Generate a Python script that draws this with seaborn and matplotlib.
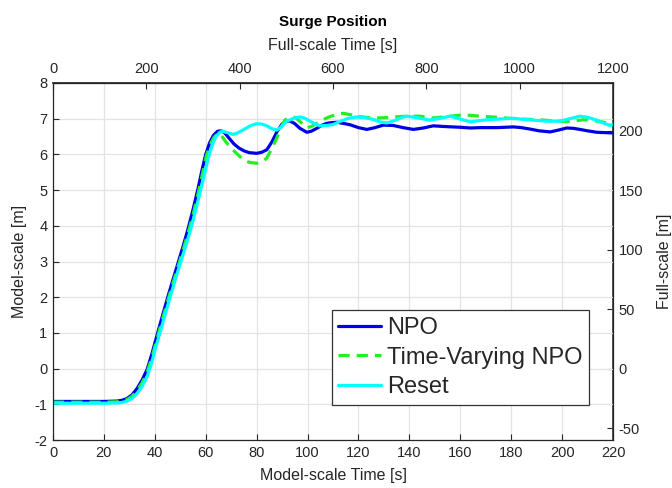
import numpy as np
import pandas as pd
import matplotlib
matplotlib.use("Agg")
import matplotlib.pyplot as plt
import seaborn as sns

# Surge response, model scale (time in s, position in m)
npo_t = [0, 10, 20, 25, 27, 29, 31, 33, 35, 37, 39, 41, 43, 45, 47, 49, 51, 53, 55, 57, 58.5,
         60, 61.5, 63, 64.5, 65.5, 66.5, 67.5, 69, 71, 73, 75, 77, 80, 82, 84, 86, 88, 90, 91.5,
         93, 95, 97, 99.7, 101.5, 103.6, 105.5, 107.5, 109.5, 111.5, 114, 116.7, 120, 123.3,
         126.5, 129.8, 133.7, 137.5, 141.6, 145.5, 149.4, 154, 159.9, 164, 168, 174.3, 180.9,
         184, 187.4, 191, 195.3, 198.5, 201.8, 204.5, 207, 210, 213.6, 217, 220]
npo_v = [-0.92, -0.92, -0.92, -0.91, -0.89, -0.84, -0.74, -0.56, -0.32, -0.02, 0.45, 0.97, 1.48,
         1.98, 2.46, 2.93, 3.4, 3.9, 4.45, 5.05, 5.55, 6.0, 6.32, 6.53, 6.64, 6.66, 6.65, 6.6,
         6.47, 6.3, 6.18, 6.1, 6.05, 6.03, 6.06, 6.13, 6.35, 6.64, 6.85, 6.92, 6.94, 6.86, 6.73,
         6.62, 6.65, 6.73, 6.81, 6.87, 6.89, 6.9, 6.87, 6.83, 6.75, 6.7, 6.75, 6.82, 6.81, 6.75,
         6.7, 6.74, 6.8, 6.78, 6.76, 6.74, 6.75, 6.75, 6.77, 6.75, 6.71, 6.66, 6.63, 6.68, 6.74,
         6.73, 6.7, 6.66, 6.62, 6.61, 6.6]

tv_t = [0, 10, 20, 25, 27, 29, 31, 33, 35, 37, 39, 41, 43, 45, 47, 49, 51, 53, 55, 57, 58.7,
        60.2, 61.7, 63.2, 64.5, 65.6, 66.9, 68.5, 70.8, 72.5, 74.8, 77, 80, 82, 83.9, 85.5, 87.9,
        89.5, 91.2, 93.8, 95.5, 97, 98.5, 99.7, 101.5, 103.6, 106, 108.8, 111.5, 114.1, 117,
        120.3, 124, 127.2, 131, 136.3, 140, 144.2, 149.4, 155, 161.2, 167.8, 174.3, 183.5, 191.4,
        196, 201.8, 205, 208.3, 211, 214.9, 218, 220]
tv_v = [-0.94, -0.94, -0.94, -0.93, -0.92, -0.87, -0.78, -0.62, -0.4, -0.1, 0.35, 0.87, 1.38,
        1.88, 2.36, 2.83, 3.3, 3.78, 4.3, 4.9, 5.45, 5.95, 6.27, 6.47, 6.57, 6.59, 6.45, 6.3,
        6.12, 6.0, 5.85, 5.78, 5.75, 5.79, 5.89, 6.1, 6.45, 6.75, 6.97, 7.06, 7.02, 6.92, 6.82,
        6.75, 6.78, 6.87, 6.97, 7.06, 7.12, 7.15, 7.11, 7.06, 7.03, 7.02, 7.03, 7.06, 7.07, 7.07,
        7.02, 7.06, 7.11, 7.07, 7.04, 6.99, 6.97, 6.94, 6.92, 6.94, 6.97, 6.96, 6.92, 6.88, 6.85]

rs_t = [0, 10, 20, 25, 27, 29, 31, 33, 35, 37, 38.5, 40, 42, 44, 46, 48, 50, 52, 54, 56, 58,
        59.5, 61, 62.5, 64, 65.5, 66.5, 68, 70.8, 72.5, 74.8, 77.5, 80, 82, 84, 86, 87.9, 89.5,
        91.8, 94.5, 97, 99, 101, 103, 104.9, 107.5, 110.1, 113, 116, 119.3, 122.5, 125.8, 128.5,
        131.1, 134, 136.5, 139, 142, 145, 148, 152, 156, 160, 163.8, 167, 170.4, 175, 180.9, 185,
        188.7, 194, 199.2, 203, 207, 210, 213.6, 216.5, 218.9, 220]
rs_v = [-0.97, -0.97, -0.97, -0.96, -0.95, -0.91, -0.84, -0.7, -0.5, -0.22, 0.1, 0.5, 1.0, 1.5,
        2.0, 2.48, 2.95, 3.4, 3.88, 4.42, 5.0, 5.45, 5.9, 6.25, 6.5, 6.62, 6.65, 6.62, 6.56, 6.6,
        6.69, 6.8, 6.86, 6.85, 6.8, 6.72, 6.68, 6.76, 6.93, 7.01, 7.05, 7.01, 6.93, 6.85, 6.8,
        6.81, 6.84, 6.93, 7.01, 7.05, 7.03, 6.98, 6.91, 6.88, 6.94, 7.02, 7.07, 7.04, 7.0, 6.96,
        7.01, 7.07, 6.99, 6.91, 6.94, 6.97, 6.99, 7.01, 6.98, 6.96, 6.93, 6.93, 7.0, 7.07, 7.04,
        6.96, 6.87, 6.81, 6.85]

series_names = ["NPO", "Time-Varying NPO", "Reset"]
series_colors = ["#0000e6", "#22f022", "#00ffff"]

# Froude scaling between model and full scale
length_scale = 30.0
time_scale = 1200.0 / 220.0

df = pd.concat([
    pd.DataFrame({"t": npo_t, "v": npo_v, "Method": series_names[0]}),
    pd.DataFrame({"t": tv_t, "v": tv_v, "Method": series_names[1]}),
    pd.DataFrame({"t": rs_t, "v": rs_v, "Method": series_names[2]}),
])

sns.set_theme(style="white")
plt.rcParams["font.family"] = ["Liberation Sans", "DejaVu Sans"]
plt.rcParams["axes.unicode_minus"] = False

dash_pat = (3.5, 2.2)

fig = plt.figure(figsize=(6.72, 4.88), dpi=100)
ax = fig.add_axes([53 / 672, 1 - 440 / 488, 560 / 672, 357 / 488])

sns.lineplot(data=df, x="t", y="v", hue="Method", style="Method",
             hue_order=series_names, style_order=series_names,
             palette=series_colors,
             dashes={"NPO": "", "Time-Varying NPO": dash_pat, "Reset": ""},
             linewidth=2.3, sort=False, estimator=None, ax=ax, legend=False)

ax.set_xlim(0, 220)
ax.set_ylim(-2, 8)
ax.set_xticks(np.arange(0, 221, 20))
ax.set_yticks(np.arange(-2, 9, 1))
ax.grid(True, color="#e3e3e3", linewidth=0.9)
ax.set_axisbelow(True)
for s in ax.spines.values():
    s.set_color("#262626")
    s.set_linewidth(0.9)
    s.set_visible(True)
ax.tick_params(direction="in", length=4, width=0.8, colors="#262626",
               labelsize=10.5, top=False, right=False, left=True, bottom=True, pad=4)
ax.set_xlabel("Model-scale Time [s]", fontsize=11.5, color="#262626", labelpad=6)
ax.set_ylabel("Model-scale [m]", fontsize=11.5, color="#262626", labelpad=5)

top = ax.secondary_xaxis("top", functions=(lambda t: t * time_scale, lambda f: f / time_scale))
top.set_xticks(np.arange(0, 1201, 200))
top.tick_params(direction="in", length=4, width=0.8, colors="#262626", labelsize=10.5, pad=5)
top.set_xlabel("Full-scale Time [s]", fontsize=11.5, color="#262626", labelpad=9)
top.spines["top"].set_color("#262626")

right = ax.secondary_yaxis("right", functions=(lambda m: m * length_scale, lambda f: f / length_scale))
right.set_yticks(np.arange(-50, 201, 50))
right.tick_params(direction="in", length=4, width=0.8, colors="#262626", labelsize=10.5, pad=4)
right.set_ylabel("Full-scale [m]", fontsize=11.5, color="#262626", labelpad=10)
right.spines["right"].set_color("#262626")

ax.set_title("Surge Position", fontsize=11, fontweight="bold", color="black", pad=41)

handles = [plt.Line2D([], [], color=series_colors[0], lw=2.3),
           plt.Line2D([], [], color=series_colors[1], lw=2.3, dashes=dash_pat),
           plt.Line2D([], [], color=series_colors[2], lw=2.3)]
leg = ax.legend(handles, series_names, loc="lower right", bbox_to_anchor=(0.957, 0.098),
                fontsize=17, frameon=True, fancybox=False, framealpha=1,
                edgecolor="#333333", handlelength=1.8, handletextpad=0.25,
                labelspacing=0.33, borderpad=0.28, borderaxespad=0)
leg.get_frame().set_linewidth(0.9)

fig.savefig("out.png", dpi=100)
